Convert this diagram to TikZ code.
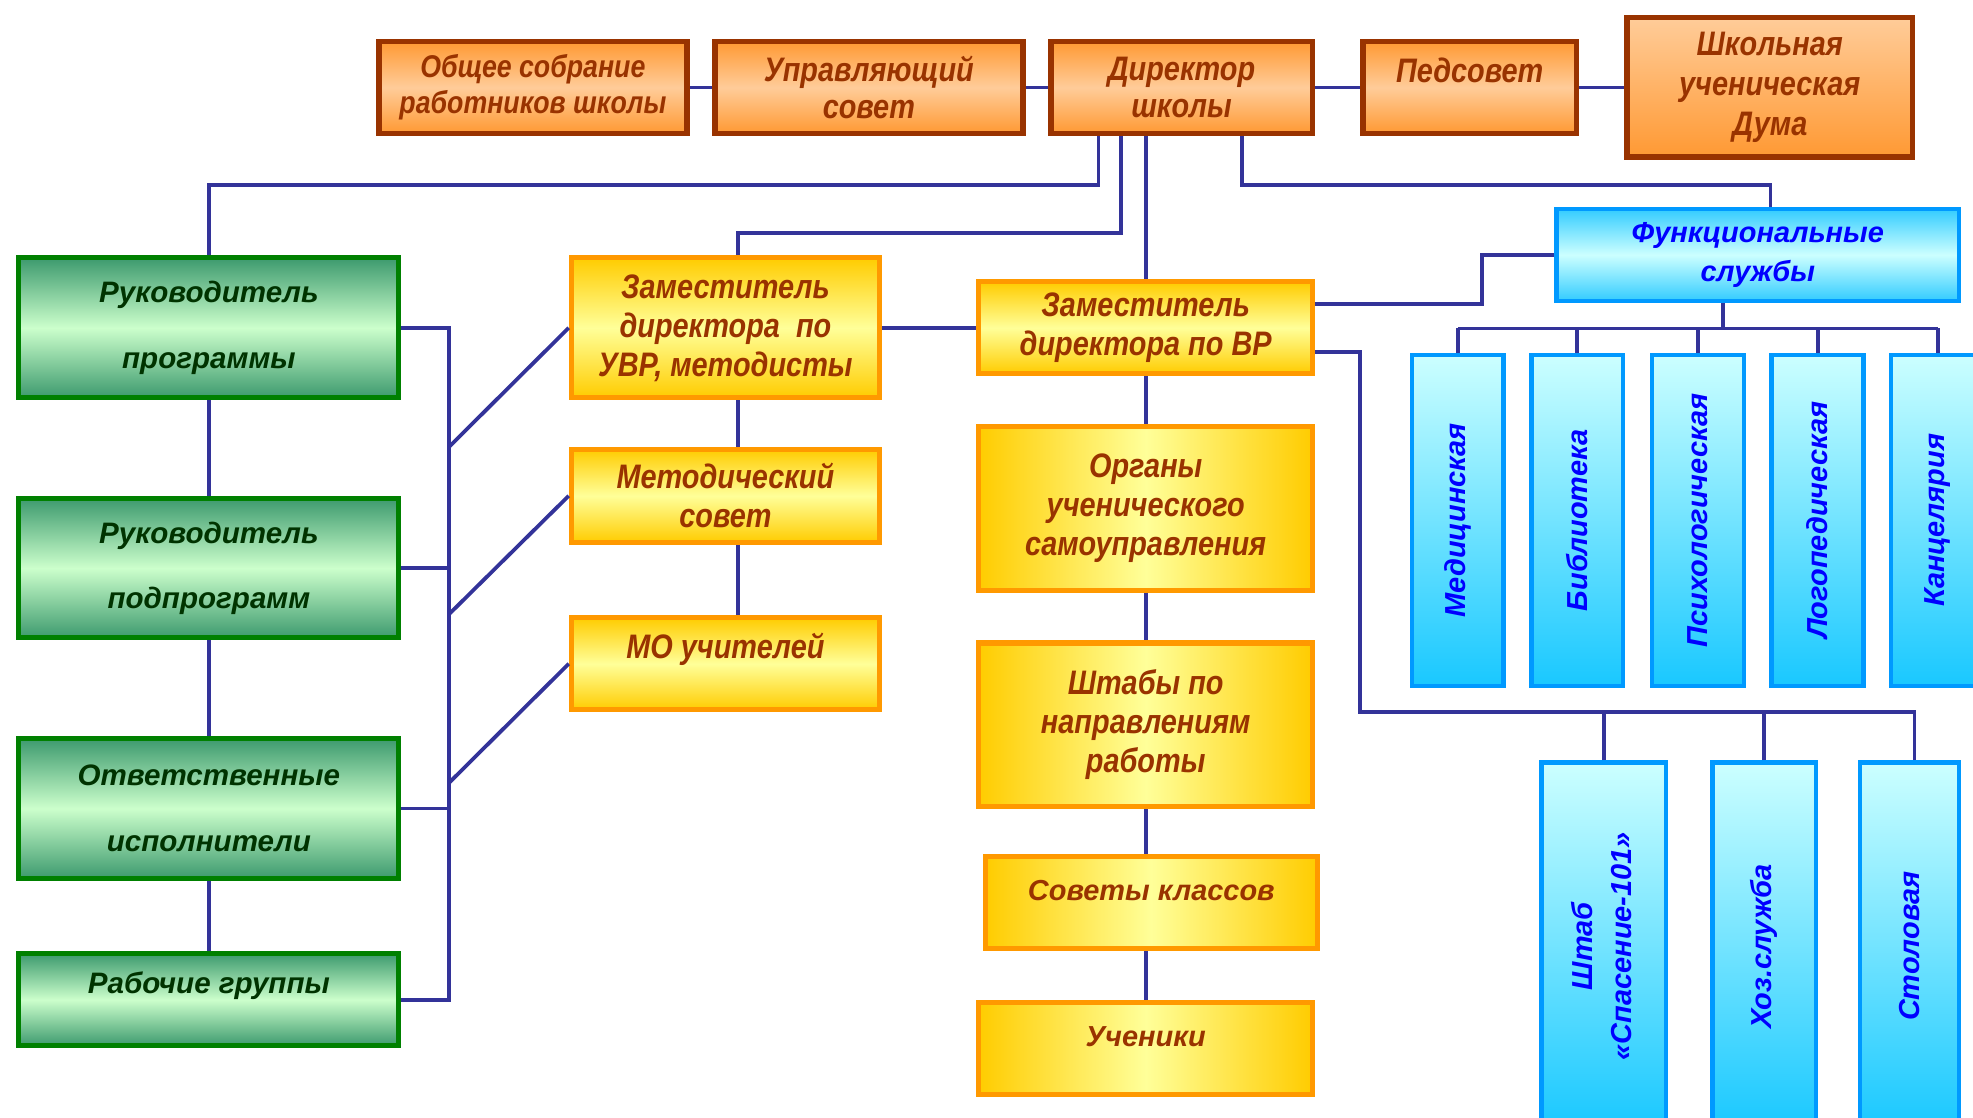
\documentclass[tikz,border=0pt]{standalone}
\usepackage{fontspec}
\setmainfont{Liberation Sans}
\newfontfamily\narrowfont[FakeStretch=0.85]{Liberation Sans}
\usetikzlibrary{positioning,calc}

\definecolor{linkblue}{HTML}{333399}
\definecolor{topbrd}{HTML}{993300}
\definecolor{toporange}{HTML}{FF9933}
\definecolor{toppeach}{HTML}{FFCC99}
\definecolor{greenbrd}{HTML}{008000}
\definecolor{greendark}{HTML}{3D9A6E}
\definecolor{greenlight}{HTML}{CCFFCC}
\definecolor{greentext}{HTML}{003300}
\definecolor{yelbrd}{HTML}{FF9900}
\definecolor{yelgold}{HTML}{FFCC00}
\definecolor{yellight}{HTML}{FFFF99}
\definecolor{bluebrd}{HTML}{0099FF}
\definecolor{bluelight}{HTML}{CCFFFF}
\definecolor{bluemid}{HTML}{33CCFF}
\definecolor{bluedark}{HTML}{19C8FF}
\definecolor{bluetext}{HTML}{0000FF}

\tikzset{
  box/.style={draw, align=center, inner sep=0pt},
  topbox/.style={box, draw=topbrd, line width=4.5pt, top color=toporange, bottom color=toporange, middle color=toppeach,
    text=topbrd, font=\narrowfont\bfseries\itshape\fontsize{27}{30}\selectfont},
  greenbox/.style={box, draw=greenbrd, line width=4pt, top color=greendark, bottom color=greendark, middle color=greenlight,
    text=greentext, font=\bfseries\itshape\fontsize{23.5}{30}\selectfont, minimum width=302},
  yelbox/.style={box, draw=yelbrd, line width=4pt, top color=yelgold, bottom color=yelgold, middle color=yellight,
    text=topbrd, font=\narrowfont\bfseries\itshape\fontsize{27}{31}\selectfont},
  yelside/.style={yelbox, left color=yelgold, right color=yelgold, middle color=yellight},
  bluebox/.style={box, draw=bluebrd, line width=3.5pt, top color=bluelight, bottom color=bluedark,
    text=bluetext, font=\bfseries\itshape\fontsize{23}{31}\selectfont},
  link/.style={draw=linkblue, line width=3pt}
}

\begin{document}
\begin{tikzpicture}[x=1pt,y=-1pt]
  \useasboundingbox (0,0) rectangle (1568,888);
  \fill[white] (0,0) rectangle (1568,888);
  \clip (0,0) rectangle (1568,888);

  % top row
  \node[topbox, minimum width=245, minimum height=73, font=\narrowfont\bfseries\itshape\fontsize{25}{29}\selectfont] (meet) at (423.5,69.5) {Общее собрание\\работников школы};
  \node[topbox, minimum width=245, minimum height=73] (council) at (690.5,69.5) {Управляющий\\совет};
  \node[topbox, minimum width=208, minimum height=73] (dir) at (939,69.5) {Директор\\школы};
  \node[topbox, minimum width=170, minimum height=73] (ped) at (1168,69.5) {Педсовет\\[-12pt]\strut};
  \node[topbox, minimum width=227, minimum height=111, middle color=toppeach, top color=toppeach, bottom color=toporange,
    font=\narrowfont\bfseries\itshape\fontsize{27}{32}\selectfont] (duma) at (1406.5,69.5) {Школьная\\ученическая\\Дума};

  % green column
  \node[greenbox, minimum height=111] (prog) at (166,260.5) {Руководитель\\[22pt]программы};
  \node[greenbox, minimum height=111] (subprog) at (166,451.5) {Руководитель\\[22pt]подпрограмм};
  \node[greenbox, minimum height=111] (resp) at (166,642.5) {Ответственные\\[22pt]исполнители};
  \node[greenbox, minimum height=73] (work) at (166,794.5) {Рабочие группы\\[-12pt]\strut};

  % deputies
  \node[yelbox, minimum width=245, minimum height=111] (uvr) at (576.5,260.5) {Заместитель\\директора\ \ по\\УВР, методисты};
  \node[yelbox, minimum width=245, minimum height=74] (metsov) at (576.5,394) {Методический\\совет};
  \node[yelbox, minimum width=245, minimum height=73] (mo) at (576.5,527.5) {МО учителей\\[-12pt]\strut};
  \node[yelbox, minimum width=265, minimum height=73] (vr) at (910.5,260.5) {Заместитель\\директора по ВР};
  \node[yelside, minimum width=265, minimum height=130] (organs) at (910.5,404) {Органы\\ученического\\самоуправления};
  \node[yelside, minimum width=265, minimum height=130] (staffs) at (910.5,576) {Штабы по\\направлениям\\работы};
  \node[yelside, minimum width=264, minimum height=73, font=\bfseries\itshape\fontsize{23}{30}\selectfont] (classes) at (915,717.5) {Советы классов\\[-20pt]\strut};
  \node[yelside, minimum width=265, minimum height=73, font=\bfseries\itshape\fontsize{23}{30}\selectfont] (pupils) at (910.5,833.5) {Ученики\\[-20pt]\strut};

  % services
  \node[bluebox, minimum width=320, minimum height=73, top color=bluemid, bottom color=bluemid, middle color=bluelight] (func) at (1397,202.5) {Функциональные\\службы};
  \node[bluebox, minimum width=73, minimum height=263] (med) at (1158.5,413.5) {\rotatebox{90}{Медицинская}};
  \node[bluebox, minimum width=73, minimum height=263] (lib) at (1253.5,413.5) {\rotatebox{90}{Библиотека}};
  \node[bluebox, minimum width=73, minimum height=263] (psy) at (1349.5,413.5) {\rotatebox{90}{Психологическая}};
  \node[bluebox, minimum width=73, minimum height=263] (logo) at (1444.5,413.5) {\rotatebox{90}{Логопедическая}};
  \node[bluebox, minimum width=74, minimum height=263] (kanc) at (1540,413.5) {\rotatebox{90}{Канцелярия}};
  \node[bluebox, minimum width=99, minimum height=292] (shtab) at (1274.5,752) {\rotatebox{90}{\begin{tabular}{@{}c@{}}Штаб\\«Спасение-101»\end{tabular}}};
  \node[bluebox, minimum width=82, minimum height=292] (hoz) at (1402,752) {\rotatebox{90}{Хоз.служба}};
  \node[bluebox, minimum width=79, minimum height=292] (canteen) at (1517.5,752) {\rotatebox{90}{Столовая}};

  % links
  \draw[link] (meet) -- (council) (council) -- (dir) (dir) -- (ped) (ped) -- (duma);
  \draw[link] ([xshift=-66pt]dir.south) -- ++(0,39) -| (prog.north);
  \draw[link] ([xshift=-48pt]dir.south) -- ++(0,77) -| ([xshift=10pt]uvr.north);
  \draw[link] (dir.south -| vr.north) -- (vr.north);
  \draw[link] ([xshift=48pt]dir.south) -- ++(0,39) -| ([xshift=10pt]func.north);

  \draw[link] (prog) -- (subprog) (subprog) -- (resp) (resp) -- (work);
  \coordinate (gtop) at (357,260.5);
  \coordinate (gbot) at (357,794.5);
  \draw[link] (prog.east) -- (gtop) -- (gbot) -- (work.east);
  \draw[link] (subprog.east) -- (subprog.east -| gtop);
  \draw[link] (resp.east) -- (resp.east -| gtop);
  \coordinate (d1) at (357,355);
  \coordinate (d2) at (357,488);
  \coordinate (d3) at (357,622);
  \draw[link] (d1) -- (uvr.west);
  \draw[link] (d2) -- (metsov.west);
  \draw[link] (d3) -- (mo.west);

  \draw[link] ([xshift=10pt]uvr.south) -- ([xshift=10pt]metsov.north);
  \draw[link] ([xshift=10pt]metsov.south) -- ([xshift=10pt]mo.north);
  \draw[link] (uvr) -- (vr);
  \draw[link] (vr) -- (organs) (organs) -- (staffs);
  \draw[link] (staffs.south) -- (staffs.south |- classes.north);
  \draw[link] (classes.south -| pupils.north) -- (pupils.north);

  \draw[link] ([yshift=19pt]vr.east) -- ++(133,0) |- (func.west);
  \coordinate (fbus) at (0,261);
  \draw[link] ([xshift=-28pt]func.south) -- ([xshift=-28pt]func.south |- fbus);
  \draw[link] (med.north |- fbus) -- (kanc.north |- fbus);
  \foreach \s in {med,lib,psy,logo,kanc}
    \draw[link] (\s.north) -- (\s.north |- fbus);

  \coordinate (hbus) at (1081,566);
  \draw[link] ([yshift=-19pt]vr.east) -| (hbus) -| ([xshift=4pt]canteen.north);
  \foreach \s in {shtab,hoz}
    \draw[link] (\s.north) -- (\s.north |- hbus);
\end{tikzpicture}
\end{document}
